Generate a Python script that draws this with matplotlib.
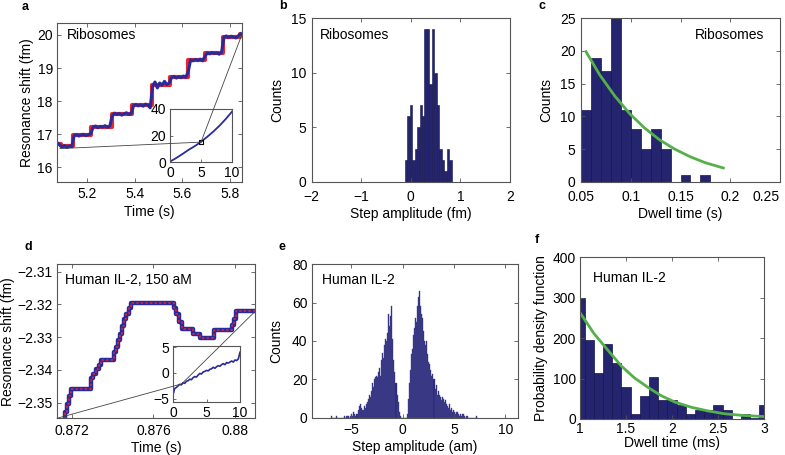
import numpy as np
import matplotlib
matplotlib.use('Agg')
import matplotlib.pyplot as plt
from matplotlib.patches import ConnectionPatch

plt.rcParams['font.family'] = ['Liberation Sans', 'DejaVu Sans']
plt.rcParams['font.size'] = 10

# ---------------- data ----------------
# a: ribosome trace (step fit + measured trace)
a_fit_t = [5.073, 5.088, 5.141, 5.218, 5.303, 5.389, 5.471, 5.548, 5.625, 5.695, 5.772, 5.842, 5.851]
a_fit_y = [16.72, 16.64, 16.98, 17.23, 17.62, 17.88, 18.50, 18.73, 19.24, 19.45, 19.94, 20.02, 20.02]
a_data_t = np.round(5.075 + 0.01 * np.arange(78), 3)
a_data_y = [16.74, 16.68, 16.62, 16.66, 16.60, 16.65, 16.63,
            16.96, 16.99, 16.95, 16.98, 17.00, 16.96, 16.99, 17.02,
            17.22, 17.25, 17.20, 17.24, 17.22, 17.26, 17.21, 17.25,
            17.55, 17.64, 17.60, 17.63, 17.58, 17.62, 17.65, 17.60, 17.63,
            17.87, 17.90, 17.86, 17.89, 17.85, 17.91, 17.88, 17.80,
            18.45, 18.58, 18.40, 18.55, 18.48, 18.60, 18.50, 18.55,
            18.72, 18.75, 18.70, 18.74, 18.71, 18.76, 18.72,
            18.90, 19.25, 19.22, 19.26, 19.23, 19.27, 19.22,
            19.35, 19.46, 19.43, 19.47, 19.44, 19.46, 19.42, 19.47,
            19.93, 19.97, 19.92, 19.96, 19.94, 19.91, 19.97, 20.03]
a_inset_t = [0, 1, 2, 3, 4, 5, 6, 7, 8, 9, 10]
a_inset_y = [0.3, 3.0, 6.0, 9.2, 12.0, 15.2, 19.0, 23.0, 27.5, 32.5, 38.0]

# b: step amplitude histogram (fm)
b_centers = [-0.10, -0.05, 0.00, 0.05, 0.10, 0.15, 0.20, 0.25, 0.30, 0.35,
             0.40, 0.45, 0.50, 0.55, 0.60, 0.65, 0.70, 0.75, 0.80]
b_counts = [2, 6, 7, 2, 3, 5, 7, 6, 14, 14, 9, 14, 10, 7, 3, 2, 1, 3, 2]

# c: dwell time histogram (s)
c_centers = [0.055, 0.065, 0.075, 0.085, 0.095, 0.105, 0.115, 0.125, 0.135,
             0.145, 0.155, 0.165, 0.175]
c_counts = [11, 19, 17, 25, 11, 8, 5, 8, 5, 0, 1, 0, 1]
c_fit_x = [0.055, 0.069, 0.084, 0.099, 0.114, 0.129, 0.144, 0.160, 0.175, 0.193]
c_fit_y = [19.9, 16.3, 13.1, 10.4, 8.2, 6.4, 5.0, 3.8, 2.9, 2.1]

# d: IL-2 trace
d_fit_t = [0.87120, 0.87150, 0.87165, 0.87178, 0.87188, 0.87195, 0.87295, 0.87305,
           0.87318, 0.87332, 0.87345, 0.87405, 0.87415, 0.87425, 0.87437, 0.87447,
           0.87457, 0.87467, 0.87480, 0.87490, 0.87700, 0.87712, 0.87724, 0.87738,
           0.87792, 0.87830, 0.87895, 0.87985, 0.87995, 0.88005, 0.88110]
d_fit_y = [-2.3580, -2.3555, -2.3530, -2.3505, -2.3480, -2.3458, -2.3425, -2.3412,
           -2.3398, -2.3385, -2.3370, -2.3345, -2.3330, -2.3310, -2.3290, -2.3265,
           -2.3245, -2.3230, -2.3210, -2.3195, -2.3210, -2.3230, -2.3255, -2.3275,
           -2.3290, -2.3303, -2.3280, -2.3262, -2.3245, -2.3222, -2.3222]
d_inset_t = np.round(0.25 * np.arange(41), 2)
d_inset_y = [-4.2, -3.0, -2.8, -2.5, -2.2, -2.3, -1.9, -2.0, -1.6, -1.5, -1.2, -1.3,
             -0.9, -0.7, -0.8, -0.4, -0.1, -0.2, 0.2, 0.3, 0.5, 0.4, 0.7, 0.8, 1.1,
             0.9, 1.2, 1.4, 1.3, 1.6, 1.8, 1.6, 2.0, 1.9, 2.1, 2.3, 2.1, 2.5, 2.4, 2.7, 4.0]

# e: step amplitude histogram (am), bins of 0.1
e_neg_counts = [1, 0, 0, 0, 0, 1, 0, 0, 0, 0,
                0, 0, 0, 1, 0, 1, 1, 1, 0, 1,
                2, 1, 3, 2, 1, 2, 4, 6, 7, 5,
                4, 4, 6, 5, 7, 8, 10, 12, 11, 14,
                18, 16, 20, 21, 22, 21, 24, 26, 22, 30,
                34, 31, 38, 41, 40, 44, 54, 48, 53, 58,
                41, 30, 24, 18, 12, 8, 3, 1, 0, 0]      # -7.0 ... -0.1
e_pos_counts = [0, 0, 0, 0, 2, 10, 18, 25, 33, 36,
                43, 47, 52, 50, 58, 63, 66, 58, 54, 52,
                45, 40, 38, 40, 33, 29, 28, 25, 22, 23,
                20, 15, 17, 12, 14, 12, 11, 9, 11, 10,
                8, 9, 7, 6, 5, 7, 4, 5, 3, 4,
                3, 2, 3, 3, 2, 1, 2, 1, 2, 2,
                1, 0, 1, 1, 0, 0, 0, 0, 0, 0,
                0, 1, 0]                                 # 0.0 ... 7.2
e_centers = np.round(np.concatenate([-7.0 + 0.1 * np.arange(70), 0.1 * np.arange(73)]) + 0.05, 3)
e_counts = e_neg_counts + e_pos_counts

# f: dwell time pdf (ms)
f_centers = [1.0, 1.1, 1.2, 1.3, 1.4, 1.5, 1.6, 1.7, 1.8, 1.9, 2.0,
             2.1, 2.2, 2.3, 2.4, 2.5, 2.6, 2.7, 2.8, 2.9, 3.0]
f_values = [300, 195, 113, 185, 138, 80, 12, 57, 103, 46, 46,
            35, 12, 23, 23, 35, 23, 0, 12, 3, 35]
f_fit_x = [1.0, 1.15, 1.3, 1.45, 1.59, 1.74, 1.88, 2.03, 2.21, 2.39, 2.57, 2.76, 3.0]
f_fit_y = [263, 212, 171, 131, 102, 78, 58, 42, 29, 20, 13, 9, 6]

# ---------------- style ----------------
BAR = '#25256f'
BLUE = '#2a2a9c'
RED = '#e8262a'
GREEN = '#55b04a'
SPINE = '#555555'

W, H = 785, 455
fig = plt.figure(figsize=(W / 100, H / 100), dpi=100)


def add_ax(l, r, t, b):
    return fig.add_axes([l / W, 1 - b / H, (r - l) / W, (b - t) / H])


def style(ax, size=10):
    for s in ax.spines.values():
        s.set_color(SPINE)
        s.set_linewidth(0.8)
    ax.tick_params(direction='in', top=True, right=True, length=3, width=0.6,
                   color=SPINE, labelsize=size, pad=3)
    ax.tick_params(axis='x', pad=4)


def plabel(x, y, s):
    fig.text(x / W, 1 - y / H, s, fontsize=9, fontweight='bold', ha='center', va='center')


# ---- a ----
ax = add_ax(57, 242, 22.7, 181.7)
style(ax)
ax.plot(a_fit_t, a_fit_y, drawstyle='steps-post', color=RED, lw=3)
ax.plot(a_data_t, a_data_y, color=BLUE, lw=2.2)
ax.set_xlim(5.073, 5.851)
ax.set_ylim(15.57, 20.37)
ax.set_xticks([5.2, 5.4, 5.6, 5.8])
ax.set_yticks([16, 17, 18, 19, 20])
ax.set_xlabel('Time (s)', labelpad=3)
ax.set_ylabel('Resonance shift (fm)', labelpad=2)
ax.text(0.055, 0.92, 'Ribosomes', transform=ax.transAxes, ha='left', va='center')
ins = add_ax(170, 232, 109, 162)
style(ins)
ins.tick_params(top=False, right=False, length=2)
ins.tick_params(axis='x', pad=3)
ins.plot(a_inset_t, a_inset_y, color=BLUE, lw=1.3)
ins.plot([5], [15], marker='s', ms=3, mfc='none', mec='black', mew=0.8)
ins.set_xlim(0, 10)
ins.set_ylim(0, 39)
ins.set_xticks([0, 5, 10])
ins.set_yticks([0, 20, 40])
for pa in [(5.085, 16.57), (5.85, 20.0)]:
    fig.add_artist(ConnectionPatch(xyA=pa, coordsA=ax.transData, xyB=(5, 15),
                                   coordsB=ins.transData, color='#444444', lw=0.6))
plabel(25, 7, 'a')

# ---- b ----
ax = add_ax(311.7, 510, 18.3, 181.7)
style(ax)
ax.tick_params(axis='x', pad=6)
ax.tick_params(axis='y', pad=4)
ax.bar(b_centers, b_counts, width=0.05, color=BAR, edgecolor='#141450', lw=0.4)
ax.set_xlim(-2, 2)
ax.set_ylim(0, 15)
ax.set_xticks([-2, -1, 0, 1, 2])
ax.set_xticklabels(['\u22122', '\u22121', '0', '1', '2'])
ax.set_yticks([0, 5, 10, 15])
ax.set_xlabel('Step amplitude (fm)', labelpad=2)
ax.set_ylabel('Counts', labelpad=5)
ax.text(0.04, 0.9, 'Ribosomes', transform=ax.transAxes, ha='left', va='center')
plabel(283, 6, 'b')

# ---- c ----
ax = add_ax(581, 780, 18.3, 181.7)
style(ax)
ax.tick_params(axis='x', pad=6)
ax.tick_params(axis='y', pad=4)
ax.bar(c_centers, c_counts, width=0.01, color=BAR, edgecolor='#141450', lw=0.5)
ax.plot(c_fit_x, c_fit_y, color=GREEN, lw=2)
ax.set_xlim(0.05, 0.25)
ax.set_ylim(0, 25)
ax.set_xticks([0.05, 0.1, 0.15, 0.2, 0.25])
ax.set_xticklabels(['0.05', '0.1', '0.15', '0.2', '0.25'])
ax.get_xticklabels()[-1].set_horizontalalignment('right')
ax.set_yticks([0, 5, 10, 15, 20, 25])
ax.set_xlabel('Dwell time (s)', labelpad=2)
ax.set_ylabel('Counts', labelpad=5)
ax.text(0.92, 0.9, 'Ribosomes', transform=ax.transAxes, ha='right', va='center')
plabel(542, 6, 'c')

# ---- d ----
ax = add_ax(57, 255, 264.3, 418.3)
style(ax)
ax.plot(d_fit_t, d_fit_y, drawstyle='steps-post', color=BLUE, lw=3.2)
ax.plot(d_fit_t, d_fit_y, drawstyle='steps-post', color=RED, lw=1.1, ls=(0, (1.5, 1.5)))
ax.set_xlim(0.87127, 0.88098)
ax.set_ylim(-2.3548, -2.3078)
ax.set_xticks([0.872, 0.876, 0.88])
ax.set_xticklabels(['0.872', '0.876', '0.88'])
ax.set_yticks([-2.35, -2.34, -2.33, -2.32, -2.31])
ax.set_yticklabels(['\u22122.35', '\u22122.34', '\u22122.33', '\u22122.32', '\u22122.31'])
ax.set_xlabel('Time (s)', labelpad=2)
ax.set_ylabel('Resonance shift (fm)', labelpad=2)
ax.text(0.04, 0.9, 'Human IL-2, 150 aM', transform=ax.transAxes, ha='left', va='center')
ins = add_ax(173, 240, 346, 402)
style(ins)
ins.tick_params(top=False, right=False, length=2)
ins.tick_params(axis='x', pad=3)
ins.plot(d_inset_t, d_inset_y, color=BLUE, lw=1.2)
ins.set_xlim(0, 10)
ins.set_ylim(-5.6, 5.2)
ins.set_xticks([0, 5, 10])
ins.set_yticks([-5, 0, 5])
ins.set_yticklabels(['\u22125', '0', '5'])
for pa in [(0.87127, -2.3548), (0.88098, -2.3222)]:
    fig.add_artist(ConnectionPatch(xyA=pa, coordsA=ax.transData, xyB=(1.3, -2.1),
                                   coordsB=ins.transData, color='#444444', lw=0.6))
plabel(28, 247, 'd')

# ---- e ----
ax = add_ax(311.7, 517.7, 264.3, 417.7)
style(ax)
ax.bar(e_centers, e_counts, width=0.1, color=BAR, edgecolor='#4a4a9a', lw=0.3)
ax.set_xlim(-8.86, 11.2)
ax.set_ylim(0, 80)
ax.set_xticks([-5, 0, 5, 10])
ax.set_xticklabels(['\u22125', '0', '5', '10'])
ax.set_yticks([0, 20, 40, 60, 80])
ax.set_xlabel('Step amplitude (am)', labelpad=2)
ax.set_ylabel('Counts', labelpad=6)
ax.text(0.05, 0.9, 'Human IL-2', transform=ax.transAxes, ha='left', va='center')
plabel(282, 247, 'e')

# ---- f ----
ax = add_ax(580, 764, 257.3, 419)
style(ax)
ax.tick_params(axis='x', pad=2)
ax.bar(f_centers, f_values, width=0.1, color=BAR, edgecolor='#141450', lw=0.5)
ax.plot(f_fit_x, f_fit_y, color=GREEN, lw=2)
ax.set_xlim(1, 3)
ax.set_ylim(0, 400)
ax.set_xticks([1, 1.5, 2, 2.5, 3])
ax.set_xticklabels(['1', '1.5', '2', '2.5', '3'])
ax.set_yticks([0, 100, 200, 300, 400])
ax.set_xlabel('Dwell time (ms)', labelpad=0)
ax.set_ylabel('Probability density function', labelpad=3)
ax.text(0.07, 0.87, 'Human IL-2', transform=ax.transAxes, ha='left', va='center')
plabel(537, 240, 'f')

fig.savefig('out.png', dpi=100)
